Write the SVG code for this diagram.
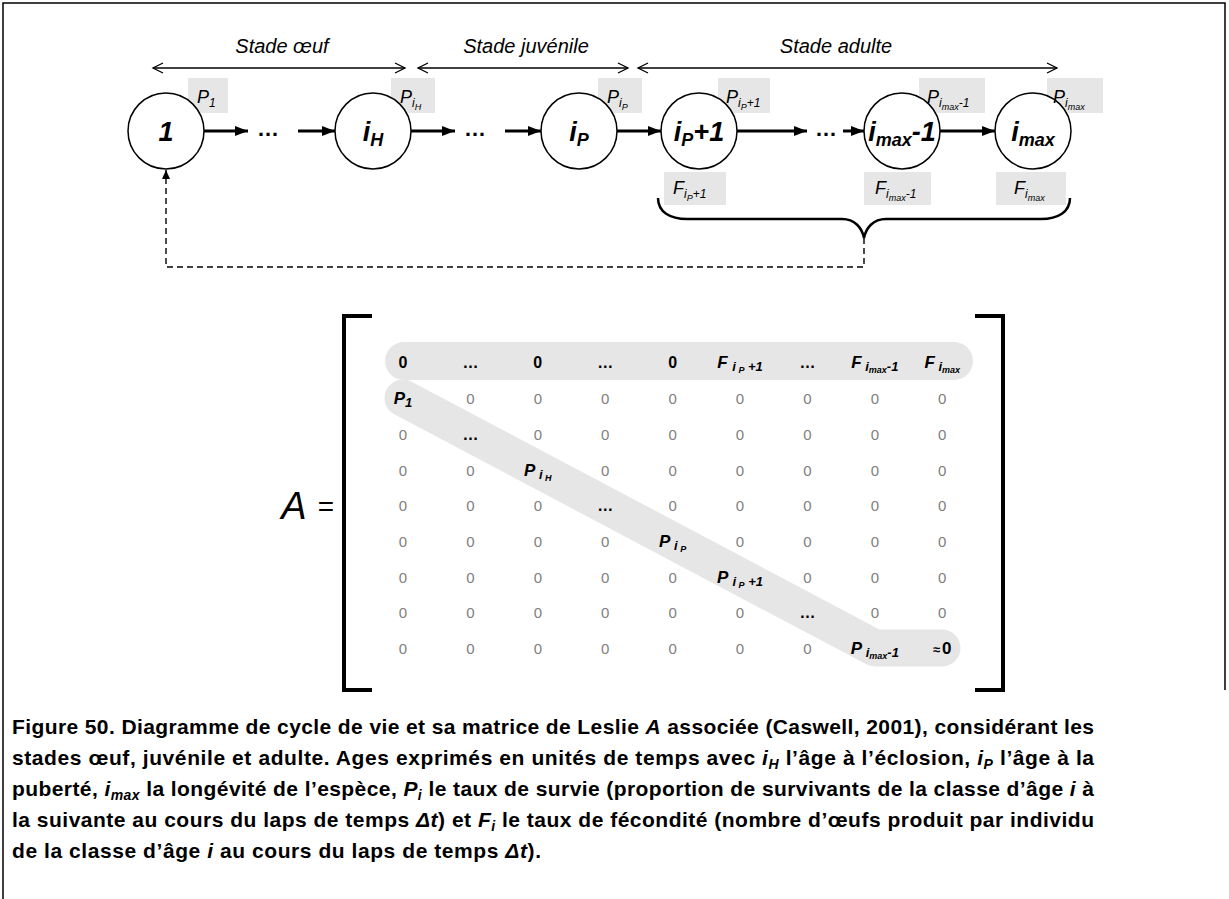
<svg xmlns="http://www.w3.org/2000/svg" width="1229" height="899" viewBox="0 0 1229 899">
<style>
text{font-family:"Liberation Sans",Arial,sans-serif;}
.stage{font-size:20px;font-style:italic;}
.node{font-size:27px;font-weight:bold;font-style:italic;text-anchor:middle;}
.nsub{font-size:18px;}
.lbl{font-size:18px;font-style:italic;}
.s1{font-size:12px;}
.s2{font-size:9px;}
.box{fill:#e6e6e6;}
.circ{fill:#fff;stroke:#000;stroke-width:1.5;}
.thick{stroke:#000;stroke-width:3;fill:none;}
.dots{font-size:22px;font-weight:bold;text-anchor:middle;}
.z{font-size:15px;fill:#808080;text-anchor:middle;}
.b{font-size:16px;font-weight:bold;text-anchor:middle;}
.bi{font-size:17px;font-weight:bold;font-style:italic;text-anchor:middle;}
.m1{font-size:13px;}
.m2{font-size:9px;}
.cap{font-size:21px;font-weight:bold;}
.it{font-style:italic;}
.cs{font-size:14px;font-style:italic;}
</style>
<defs>
<marker id="open" markerUnits="userSpaceOnUse" markerWidth="14" markerHeight="14" refX="11" refY="6" orient="auto-start-reverse">
<path d="M1,1 L11,6 L1,11" fill="none" stroke="#000" stroke-width="1.3"/>
</marker>
<marker id="tri" markerUnits="userSpaceOnUse" markerWidth="14" markerHeight="12" refX="13" refY="5" orient="auto">
<path d="M0,0 L13,5 L0,10 z" fill="#000"/>
</marker>
<marker id="tris" markerUnits="userSpaceOnUse" markerWidth="10" markerHeight="10" refX="9" refY="4" orient="auto">
<path d="M0,0 L9,4 L0,8 z" fill="#000"/>
</marker>
</defs>
<rect width="1229" height="899" fill="#fff"/>
<g id="frame" fill="none" stroke="#000" stroke-width="1.5">
<path d="M3,899 V3 H1225 V690"/>
</g>

<g id="stages">
<line x1="153" y1="68" x2="405" y2="68" stroke="#000" stroke-width="1.3" marker-start="url(#open)" marker-end="url(#open)"/>
<line x1="418" y1="68" x2="628" y2="68" stroke="#000" stroke-width="1.3" marker-start="url(#open)" marker-end="url(#open)"/>
<line x1="638" y1="68" x2="1057" y2="68" stroke="#000" stroke-width="1.3" marker-start="url(#open)" marker-end="url(#open)"/>
<text class="stage" x="282" y="53" text-anchor="middle">Stade œuf</text>
<text class="stage" x="526" y="53" text-anchor="middle">Stade juvénile</text>
<text class="stage" x="836" y="53" text-anchor="middle">Stade adulte</text>
</g>

<g id="labelboxes">
<rect class="box" x="188" y="78" width="40" height="35"/>
<rect class="box" x="391" y="78" width="44" height="35"/>
<rect class="box" x="598" y="78" width="44" height="35"/>
<rect class="box" x="718" y="78" width="52" height="35"/>
<rect class="box" x="919" y="78" width="66" height="35"/>
<rect class="box" x="1047" y="78" width="56" height="35"/>
<rect class="box" x="664" y="172" width="62" height="33"/>
<rect class="box" x="864" y="172" width="67" height="33"/>
<rect class="box" x="996" y="172" width="70" height="33"/>
</g>

<g id="connectors">
<line class="thick" x1="204" y1="131" x2="248" y2="131" marker-end="url(#tri)"/>
<line class="thick" x1="298" y1="131" x2="335" y2="131" marker-end="url(#tri)"/>
<line class="thick" x1="411" y1="131" x2="455" y2="131" marker-end="url(#tri)"/>
<line class="thick" x1="505" y1="131" x2="541" y2="131" marker-end="url(#tri)"/>
<line class="thick" x1="617" y1="131" x2="661" y2="131" marker-end="url(#tri)"/>
<line class="thick" x1="737" y1="131" x2="807" y2="131" marker-end="url(#tri)"/>
<line class="thick" x1="843" y1="131" x2="864" y2="131" marker-end="url(#tri)"/>
<line class="thick" x1="940" y1="131" x2="995" y2="131" marker-end="url(#tri)"/>
<text class="dots" x="268" y="136">…</text>
<text class="dots" x="475" y="136">…</text>
<text class="dots" x="826" y="136">…</text>
<path d="M658,198 C658,212 670,219 687,219 H842 C855,219 862,228 864,238 C866,228 873,219 886,219 H1041 C1058,219 1070,212 1070,198" fill="none" stroke="#000" stroke-width="2.5"/>
<path d="M864,238 V267 H166 V170" fill="none" stroke="#000" stroke-width="1.4" stroke-dasharray="6,4" marker-end="url(#tris)"/>
</g>

<g id="n1"><circle class="circ" cx="166" cy="131" r="38"/><text class="node" x="166" y="141">1</text></g>
<g id="niH"><circle class="circ" cx="373" cy="131" r="38"/><text class="node" x="373" y="141">i<tspan class="nsub" dy="5">H</tspan></text></g>
<g id="niP"><circle class="circ" cx="579" cy="131" r="38"/><text class="node" x="579" y="141">i<tspan class="nsub" dy="5">P</tspan></text></g>
<g id="niP1"><circle class="circ" cx="699" cy="131" r="38"/><text class="node" x="699" y="141">i<tspan class="nsub" dy="5">P</tspan><tspan dy="-5">+1</tspan></text></g>
<g id="nmax1"><circle class="circ" cx="902" cy="131" r="38"/><text class="node" x="902" y="141">i<tspan class="nsub" dy="5">max</tspan><tspan dy="-5">-1</tspan></text></g>
<g id="nmax"><circle class="circ" cx="1033" cy="131" r="38"/><text class="node" x="1033" y="141">i<tspan class="nsub" dy="5">max</tspan></text></g>

<g id="plabels">
<text class="lbl" x="197" y="103">P<tspan class="s1" dy="4">1</tspan></text>
<text class="lbl" x="400" y="103">P<tspan class="s1" dy="4">i</tspan><tspan class="s2" dy="3">H</tspan></text>
<text class="lbl" x="607" y="103">P<tspan class="s1" dy="4">i</tspan><tspan class="s2" dy="3">P</tspan></text>
<text class="lbl" x="726" y="103">P<tspan class="s1" dy="4">i</tspan><tspan class="s2" dy="3">P</tspan><tspan class="s1" dy="-3">+1</tspan></text>
<text class="lbl" x="927" y="103">P<tspan class="s1" dy="4">i</tspan><tspan class="s2" dy="3">max</tspan><tspan class="s1" dy="-3">-1</tspan></text>
<text class="lbl" x="1053" y="103">P<tspan class="s1" dy="4">i</tspan><tspan class="s2" dy="3">max</tspan></text>
<text class="lbl" x="673" y="194">F<tspan class="s1" dy="4">i</tspan><tspan class="s2" dy="3">P</tspan><tspan class="s1" dy="-3">+1</tspan></text>
<text class="lbl" x="875" y="194">F<tspan class="s1" dy="4">i</tspan><tspan class="s2" dy="3">max</tspan><tspan class="s1" dy="-3">-1</tspan></text>
<text class="lbl" x="1014" y="194">F<tspan class="s1" dy="4">i</tspan><tspan class="s2" dy="3">max</tspan></text>
</g>

<g id="matrix">
<text x="294" y="519" font-size="38" font-style="italic" text-anchor="middle">A</text>
<text x="326" y="516" font-size="28" text-anchor="middle">=</text>
<path d="M372,316 H344 V690 H372" fill="none" stroke="#000" stroke-width="4"/>
<path d="M975,316 H1003 V690 H975" fill="none" stroke="#000" stroke-width="4"/>
<rect x="385" y="342" width="588" height="38" rx="19" fill="#e6e6e6"/>
<polyline points="403,398 875,648 942,648" fill="none" stroke="#e6e6e6" stroke-width="37" stroke-linecap="round" stroke-linejoin="round"/>

<g id="row1">
<text class="b" x="403" y="368">0</text>
<text class="b" x="470.4" y="368">…</text>
<text class="b" x="537.8" y="368">0</text>
<text class="b" x="605.2" y="368">…</text>
<text class="b" x="672.6" y="368">0</text>
<text class="bi" x="740" y="368">F <tspan class="m1" dy="3">i</tspan><tspan class="m2" dy="2"> P</tspan><tspan class="m1" dy="-2"> +1</tspan></text>
<text class="b" x="807.4" y="368">…</text>
<text class="bi" x="874.8" y="368">F<tspan class="m1" dy="3"> i</tspan><tspan class="m2" dy="2">max</tspan><tspan class="m1" dy="-2">-1</tspan></text>
<text class="bi" x="942.2" y="368">F<tspan class="m1" dy="3"> i</tspan><tspan class="m2" dy="2">max</tspan></text>
</g>
<g id="row2">
<text class="bi" x="403" y="404">P<tspan class="m1" dy="3">1</tspan></text>
<text class="z" x="470.4" y="403.5">0</text><text class="z" x="537.8" y="403.5">0</text><text class="z" x="605.2" y="403.5">0</text><text class="z" x="672.6" y="403.5">0</text><text class="z" x="740" y="403.5">0</text><text class="z" x="807.4" y="403.5">0</text><text class="z" x="874.8" y="403.5">0</text><text class="z" x="942.2" y="403.5">0</text>
</g>
<g id="row3">
<text class="z" x="403" y="439.5">0</text>
<text class="b" x="470.4" y="440">…</text>
<text class="z" x="537.8" y="439.5">0</text><text class="z" x="605.2" y="439.5">0</text><text class="z" x="672.6" y="439.5">0</text><text class="z" x="740" y="439.5">0</text><text class="z" x="807.4" y="439.5">0</text><text class="z" x="874.8" y="439.5">0</text><text class="z" x="942.2" y="439.5">0</text>
</g>
<g id="row4">
<text class="z" x="403" y="475.5">0</text><text class="z" x="470.4" y="475.5">0</text>
<text class="bi" x="537.8" y="476">P<tspan class="m1" dy="3"> i</tspan><tspan class="m2" dy="2"> H</tspan></text>
<text class="z" x="605.2" y="475.5">0</text><text class="z" x="672.6" y="475.5">0</text><text class="z" x="740" y="475.5">0</text><text class="z" x="807.4" y="475.5">0</text><text class="z" x="874.8" y="475.5">0</text><text class="z" x="942.2" y="475.5">0</text>
</g>
<g id="row5">
<text class="z" x="403" y="510.5">0</text><text class="z" x="470.4" y="510.5">0</text><text class="z" x="537.8" y="510.5">0</text>
<text class="b" x="605.2" y="511">…</text>
<text class="z" x="672.6" y="510.5">0</text><text class="z" x="740" y="510.5">0</text><text class="z" x="807.4" y="510.5">0</text><text class="z" x="874.8" y="510.5">0</text><text class="z" x="942.2" y="510.5">0</text>
</g>
<g id="row6">
<text class="z" x="403" y="546.5">0</text><text class="z" x="470.4" y="546.5">0</text><text class="z" x="537.8" y="546.5">0</text><text class="z" x="605.2" y="546.5">0</text>
<text class="bi" x="672.6" y="547">P<tspan class="m1" dy="3"> i</tspan><tspan class="m2" dy="2"> P</tspan></text>
<text class="z" x="740" y="546.5">0</text><text class="z" x="807.4" y="546.5">0</text><text class="z" x="874.8" y="546.5">0</text><text class="z" x="942.2" y="546.5">0</text>
</g>
<g id="row7">
<text class="z" x="403" y="582.5">0</text><text class="z" x="470.4" y="582.5">0</text><text class="z" x="537.8" y="582.5">0</text><text class="z" x="605.2" y="582.5">0</text><text class="z" x="672.6" y="582.5">0</text>
<text class="bi" x="740" y="583">P <tspan class="m1" dy="3">i</tspan><tspan class="m2" dy="2"> P</tspan><tspan class="m1" dy="-2"> +1</tspan></text>
<text class="z" x="807.4" y="582.5">0</text><text class="z" x="874.8" y="582.5">0</text><text class="z" x="942.2" y="582.5">0</text>
</g>
<g id="row8">
<text class="z" x="403" y="617.5">0</text><text class="z" x="470.4" y="617.5">0</text><text class="z" x="537.8" y="617.5">0</text><text class="z" x="605.2" y="617.5">0</text><text class="z" x="672.6" y="617.5">0</text><text class="z" x="740" y="617.5">0</text>
<text class="b" x="807.4" y="618">…</text>
<text class="z" x="874.8" y="617.5">0</text><text class="z" x="942.2" y="617.5">0</text>
</g>
<g id="row9">
<text class="z" x="403" y="653.5">0</text><text class="z" x="470.4" y="653.5">0</text><text class="z" x="537.8" y="653.5">0</text><text class="z" x="605.2" y="653.5">0</text><text class="z" x="672.6" y="653.5">0</text><text class="z" x="740" y="653.5">0</text><text class="z" x="807.4" y="653.5">0</text>
<text class="bi" x="874.8" y="654">P<tspan class="m1" dy="3"> i</tspan><tspan class="m2" dy="2">max</tspan><tspan class="m1" dy="-2">-1</tspan></text>
<text class="b" x="942.2" y="654"><tspan font-size="13">≈</tspan><tspan font-size="17" dx="2">0</tspan></text>
</g>
</g>

<g id="caption">
<text class="cap" x="12" y="734" textLength="1082" lengthAdjust="spacing">Figure 50. Diagramme de cycle de vie et sa matrice de Leslie <tspan class="it">A</tspan> associée (Caswell, 2001), considérant les</text>
<text class="cap" x="12" y="765" textLength="1082" lengthAdjust="spacing">stades œuf, juvénile et adulte. Ages exprimés en unités de temps avec <tspan class="it">i</tspan><tspan class="cs" dy="4">H</tspan><tspan dy="-4"> l’âge à l’éclosion, </tspan><tspan class="it">i</tspan><tspan class="cs" dy="4">P</tspan><tspan dy="-4"> l’âge à la</tspan></text>
<text class="cap" x="12" y="796" textLength="1082" lengthAdjust="spacing">puberté, <tspan class="it">i</tspan><tspan class="cs" dy="4">max</tspan><tspan dy="-4"> la longévité de l’espèce, </tspan><tspan class="it">P</tspan><tspan class="cs" dy="4">i</tspan><tspan dy="-4"> le taux de survie (proportion de survivants de la classe d’âge </tspan><tspan class="it">i</tspan> à</text>
<text class="cap" x="12" y="827" textLength="1082" lengthAdjust="spacing">la suivante au cours du laps de temps <tspan class="it">Δt</tspan>) et <tspan class="it">F</tspan><tspan class="cs" dy="4">i</tspan><tspan dy="-4"> le taux de fécondité (nombre d’œufs produit par individu</tspan></text>
<text class="cap" x="12" y="858" textLength="529" lengthAdjust="spacing">de la classe d’âge <tspan class="it">i</tspan> au cours du laps de temps <tspan class="it">Δt</tspan>).</text>
</g>
</svg>
